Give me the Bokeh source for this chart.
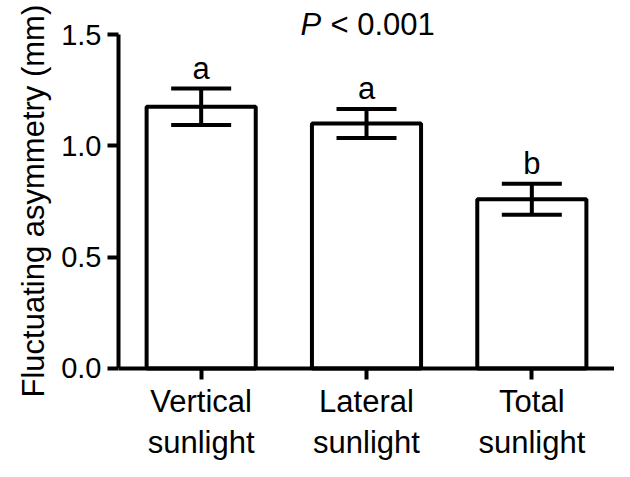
from bokeh.plotting import figure
from bokeh.models import (FactorRange, Range1d, FixedTicker, PrintfTickFormatter,
                          ColumnDataSource, Whisker, TeeHead, Title)
from bokeh.core.properties import value
from bokeh.embed import file_html
from bokeh.resources import INLINE

# ---- data ----
categories = ["Vertical\nsunlight", "Lateral\nsunlight", "Total\nsunlight"]
means = [1.175, 1.10, 0.76]
sems = [0.082, 0.065, 0.07]
letters = ["a", "a", "b"]
y_ticks = [0.0, 0.5, 1.0, 1.5]
y_label = "Fluctuating asymmetry (mm)"
p_label = "P"
p_value = "< 0.001"

# ---- layout / style constants ----
FONT = "Liberation Sans"
LETTER_GAP = 0.092      # letter anchor above the error cap (data units)
P_TEXT_Y = 1.544        # anchor height of the "P < 0.001" note (data units)
Y_START, Y_END = -0.4177, 1.6527

lower = [m - s for m, s in zip(means, sems)]
upper = [m + s for m, s in zip(means, sems)]
letter_y = [u + LETTER_GAP for u in upper]
src = ColumnDataSource(dict(cat=categories, mean=means, lower=lower,
                            upper=upper, letter=letters, ly=letter_y))

p = figure(x_range=FactorRange(*categories), y_range=Range1d(Y_START, Y_END),
           width=614, height=461, output_backend="svg", toolbar_location=None,
           min_border_left=118, min_border_right=0, min_border_top=0,
           min_border_bottom=0)
p.background_fill_color = "white"
p.border_fill_color = "white"
p.outline_line_color = None
p.xgrid.visible = False
p.ygrid.visible = False

p.vbar(x="cat", top="mean", bottom=0, width=0.66, source=src,
       fill_color="white", line_color="black", line_width=4)

whisk = Whisker(base="cat", upper="upper", lower="lower", source=src,
                line_color="black", line_width=4, level="overlay",
                upper_head=TeeHead(size=60, line_width=4, line_color="black"),
                lower_head=TeeHead(size=60, line_width=4, line_color="black"))
p.add_layout(whisk)

p.text(x="cat", y="ly", text="letter", source=src, text_align="center",
       text_baseline="middle", text_font=value(FONT),
       text_font_size="31px", text_color="black")

p.text(x=[categories[1]], y=[P_TEXT_Y], text=[p_label], x_offset=-66,
       text_align="left", text_baseline="middle", text_font=value(FONT),
       text_font_size="31px", text_font_style="italic", text_color="black")
p.text(x=[categories[1]], y=[P_TEXT_Y], text=[p_value], x_offset=-36,
       text_align="left", text_baseline="middle", text_font=value(FONT),
       text_font_size="31px", text_color="black")

# y-axis title, placed like the reference (starts just below the x axis)
ytitle = Title(text=y_label, align="left", offset=64, standoff=15,
               text_font=FONT, text_font_size="31px", text_font_style="normal",
               text_color="black")
p.add_layout(ytitle, "left")

for ax in (p.xaxis[0], p.yaxis[0]):
    ax.axis_line_width = 4
    ax.axis_line_color = "black"
    ax.major_tick_line_width = 4
    ax.major_tick_line_color = "black"
    ax.major_tick_out = 11
    ax.major_tick_in = 0
    ax.minor_tick_line_color = None
    ax.major_label_text_font = FONT
    ax.major_label_text_color = "black"

xa = p.xaxis[0]
xa.fixed_location = 0
xa.major_label_text_font_size = "31px"
xa.major_label_text_line_height = 1.16
xa.major_label_standoff = 5

ya = p.yaxis[0]
ya.ticker = FixedTicker(ticks=y_ticks)
ya.formatter = PrintfTickFormatter(format="%.1f")
ya.bounds = (y_ticks[0], y_ticks[-1])
ya.major_label_text_font_size = "29px"
ya.major_label_standoff = 6

open("out.html", "w").write(file_html(p, INLINE))
